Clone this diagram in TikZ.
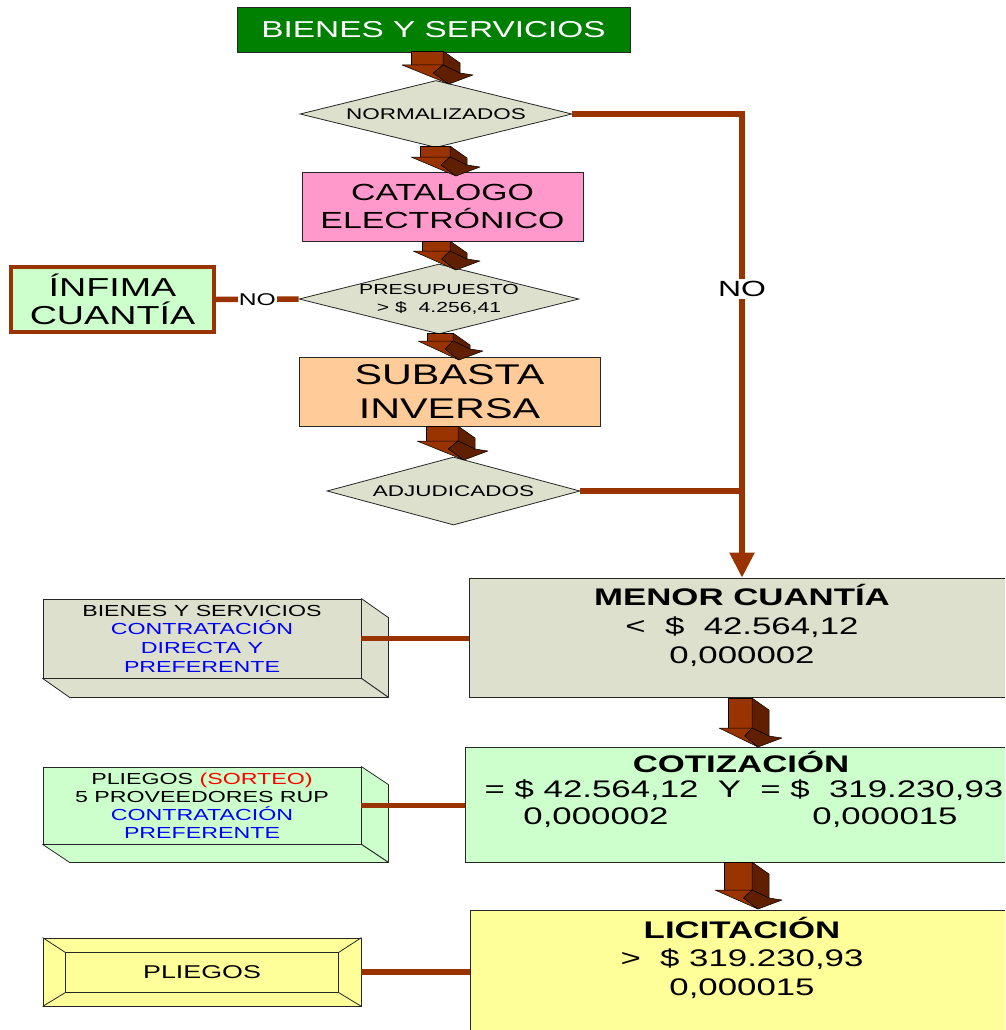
\documentclass[tikz,border=0pt]{standalone}
\usepackage{fontspec}
\setmainfont{Liberation Sans}[FakeStretch=1.45]
\usetikzlibrary{shapes.geometric,arrows.meta,calc}
\definecolor{brownline}{RGB}{153,51,0}
\definecolor{arrowdark}{RGB}{96,32,0}
\definecolor{decgrey}{RGB}{221,224,204}
\definecolor{pinkfill}{RGB}{255,153,204}
\definecolor{peachfill}{RGB}{255,204,153}
\definecolor{mintfill}{RGB}{204,255,204}
\definecolor{lemonfill}{RGB}{255,255,153}
\definecolor{titlegreen}{RGB}{0,128,0}

% 3D block arrow pointing down: #1,#2 = top-left of the shaft, #3 = shaft width, #4 = shaft length
\newcommand\blockarrow[4]{%
  \filldraw[arrowface] ({#1},{#2}) rectangle ({#1+#3},{#2+#4});
  \filldraw[arrowside] ({#1+#3},{#2}) -- ({#1+#3+17},{#2+12}) -- ({#1+#3+17},{#2+#4+8}) -- ({#1+#3},{#2+#4}) -- cycle;
  \filldraw[arrowface] ({#1-9},{#2+#4}) -- ({#1+#3},{#2+#4}) -- ({#1+0.7*#3},{#2+#4+8}) -- ({#1+#3+6},{#2+#4+19}) -- cycle;
  \filldraw[arrowside] ({#1+#3},{#2+#4}) -- ({#1+#3+17},{#2+#4+8}) -- ({#1+#3+30},{#2+#4+10}) -- ({#1+#3+6},{#2+#4+19}) -- ({#1+0.7*#3},{#2+#4+8}) -- cycle;
}

\begin{document}
\begin{tikzpicture}[x=1pt,y=-1pt,
  box/.style={draw=black!85,line width=0.8pt,inner sep=0pt,align=center},
  decision/.style={diamond,draw=black!85,line width=0.8pt,fill=decgrey,inner sep=0pt,shape aspect=4,align=center},
  conn/.style={draw=brownline,line width=5.5pt},
  face/.style={draw=black!85,line width=0.8pt,line join=round},
  arrowface/.style={fill=brownline,draw=black,line width=0.5pt,line join=round},
  arrowside/.style={fill=arrowdark,draw=black,line width=0.5pt,line join=round},
  txt/.style={inner sep=0pt,align=center},
]
\useasboundingbox (0,0) rectangle (1005,1030);
\clip (0,0) rectangle (1005,1030);

% main column
\node[box,fill=titlegreen,minimum width=393pt,minimum height=45pt,text=white,
      font=\fontsize{23}{27}\selectfont] (bys) at (433.5,29.5) {BIENES Y SERVICIOS};
\node[decision,minimum width=272pt,minimum height=67pt,font=\fontsize{15.5}{18}\selectfont]
      (norm) at (436,114) {NORMALIZADOS};
\node[box,fill=pinkfill,minimum width=281pt,minimum height=69pt,font=\fontsize{23.3}{28}\selectfont]
      (cat) at (442.5,206.5) {CATALOGO\\ELECTRÓNICO};
\node[decision,minimum width=274pt,minimum height=68pt,font=\fontsize{14.6}{18}\selectfont]
      (pres) at (439,299) {PRESUPUESTO\\> \$\ \ 4.256,41};
\node[box,draw=brownline,line width=4pt,fill=mintfill,minimum width=203pt,minimum height=65pt,
      font=\fontsize{26}{28}\selectfont] (inf) at (112.5,299.5) {ÍNFIMA\\CUANTÍA};
\node[box,fill=peachfill,minimum width=301pt,minimum height=69pt,font=\fontsize{28.5}{34}\selectfont]
      (sub) at (449.5,391.5) {SUBASTA\\INVERSA};
\node[decision,minimum width=253pt,minimum height=68pt,font=\fontsize{15.5}{18}\selectfont]
      (adj) at (453.5,491) {ADJUDICADOS};

% procedure boxes
\node[box,fill=decgrey,minimum width=546pt,minimum height=119pt] (menor) at (742,637.5) {};
\node[txt,font=\fontsize{24}{29}\selectfont] (menortxt) at (742,625)
      {\textbf{MENOR CUANTÍA}\\<\ \ \$\ \ 42.564,12\\0,000002};
\node[box,fill=mintfill,minimum width=550pt,minimum height=115pt] (coti) at (740,804.5) {};
\node[txt,font=\fontsize{24}{28}\selectfont] (cotihead) at (741,762) {\textbf{COTIZACIÓN}};
\node[txt,font=\fontsize{24}{28}\selectfont] (cotirange) at (744,790)
      {= \$ 42.564,12\ \ Y\ \ = \$\ \ 319.230,93};
\node[txt,font=\fontsize{24}{28}\selectfont] (cotilow) at (596,818) {0,000002};
\node[txt,font=\fontsize{24}{28}\selectfont] (cotihigh) at (885,818) {0,000015};
\node[box,fill=lemonfill,minimum width=545pt,minimum height=130pt] (lic) at (742.5,975) {};
\node[txt,font=\fontsize{24}{28.5}\selectfont] (lictxt) at (742,957.5)
      {\textbf{LICITACIÓN}\\>\ \ \$ 319.230,93\\0,000015};

% side boxes
\node[box,fill=decgrey,minimum width=318pt,minimum height=79pt,font=\fontsize{16}{18.7}\selectfont]
      (bs) at (202,638.5)
      {BIENES Y SERVICIOS\\\textcolor{blue}{CONTRATACIÓN}\\\textcolor{blue}{DIRECTA Y}\\\textcolor{blue}{PREFERENTE}};
\filldraw[face,fill=decgrey] (bs.north east) -- ++(27,19) -- ($(bs.south east)+(27,19)$) -- (bs.south east) -- cycle;
\filldraw[face,fill=decgrey] (bs.south west) -- ($(bs.south west)+(27,19)$) -- ($(bs.south east)+(27,19)$) -- (bs.south east) -- cycle;

\node[box,fill=mintfill,minimum width=318pt,minimum height=77pt,font=\fontsize{16}{18}\selectfont]
      (pq) at (202,805.5)
      {PLIEGOS \textcolor{red}{(SORTEO)}\\5 PROVEEDORES RUP\\\textcolor{blue}{CONTRATACIÓN}\\\textcolor{blue}{PREFERENTE}};
\filldraw[face,fill=mintfill] (pq.north east) -- ++(27,18) -- ($(pq.south east)+(27,18)$) -- (pq.south east) -- cycle;
\filldraw[face,fill=mintfill] (pq.south west) -- ($(pq.south west)+(27,18)$) -- ($(pq.south east)+(27,18)$) -- (pq.south east) -- cycle;

\node[box,fill=lemonfill,minimum width=318pt,minimum height=68pt,font=\fontsize{18.5}{22}\selectfont]
      (pl) at (202,972) {PLIEGOS};
\coordinate (plinnw) at ($(pl.north west)+(23,15)$);
\coordinate (plinse) at ($(pl.south east)+(-23,-14)$);
\draw[face] (plinnw) rectangle (plinse);
\draw[face] (pl.north west) -- (plinnw);
\draw[face] (pl.south east) -- (plinse);
\draw[face] (pl.north east) -- (plinnw -| plinse);
\draw[face] (pl.south west) -- (plinnw |- plinse);

% connectors
\draw[conn,-{Triangle[width=24pt,length=25pt]}] (norm.east) -| (menor.north);
\node[fill=white,inner sep=2pt,font=\fontsize{22}{24}\selectfont] (nohigh) at (742,289) {NO};
\draw[conn] (adj.east) -- (adj.east -| menor.north);
\draw[conn] (pres.west) -- (inf.east);
\node[fill=white,inner sep=1pt,font=\fontsize{17}{18}\selectfont] (nolow) at ($(inf.east)!0.5!(pres.west)$) {NO};
\draw[conn] (bs.east) -- (bs.east -| menor.west);
\draw[conn] (pq.east) -- (pq.east -| coti.west);
\draw[conn] (pl.east) -- (pl.east -| lic.west);

% block arrows of the main flow
\blockarrow{411}{51}{32}{14}
\blockarrow{420}{146}{30}{11}
\blockarrow{422}{241}{28}{10}
\blockarrow{427}{333}{26}{8}
\blockarrow{426}{426}{32}{15}
\blockarrow{728}{698}{24}{30}
\blockarrow{724}{862}{28}{28}
\end{tikzpicture}
\end{document}
